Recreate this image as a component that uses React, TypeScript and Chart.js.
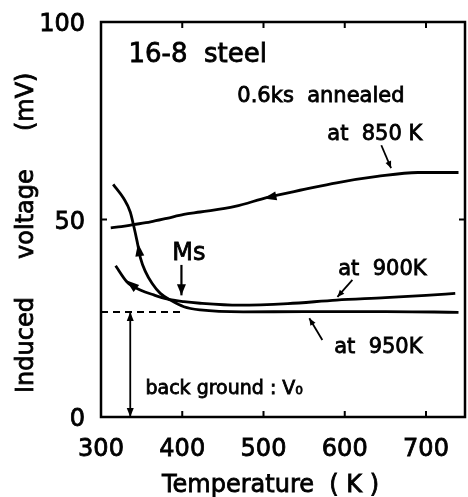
import React, { useEffect, useRef } from 'react';
import { Chart, registerables } from 'chart.js';

Chart.register(...registerables);

const FONT = "'DejaVu Sans', sans-serif";

// Axis ticks and titles
const tempTicks = [300, 400, 500, 600, 700];
const voltTicks = [0, 50, 100];
const tempMin = 300;
const tempMax = 748;
const xTitle = 'Temperature  ( K )';
const yTitle = 'Induced     voltage     (mV)';

// Induced voltage while cooling, after 0.6 ks anneal at each temperature (K, mV)
const temp850 = [312, 325, 340, 361, 381, 402, 422, 465, 505, 550, 590, 640, 690, 740];
const volt850 = [47.9, 48.2, 48.7, 49.4, 50.3, 51.3, 51.9, 53.3, 55.6, 57.6, 59.3, 60.9, 61.9, 61.9];

const temp900 = [318, 332, 349, 365, 381, 402, 422, 470, 530, 590, 650, 700, 736];
const volt900 = [38.3, 34.2, 32.1, 30.9, 29.9, 29.2, 28.8, 28.3, 28.7, 29.6, 30.2, 30.8, 31.3];

const temp950 = [315, 328, 336, 340, 344.5, 348.6, 354.7, 363, 373, 385.5, 402, 422, 475, 550, 650, 740];
const volt950 = [58.9, 55.3, 51.9, 48.6, 44.4, 40.2, 36.8, 33.8, 31.3, 29.6, 27.9, 27.1, 26.6, 26.7, 26.7, 26.5];

// Background level V0 and martensite start
const backgroundVolt = 26.6;
const backgroundArrowTemp = 336;
const msTemp = 399;

const toPoints = (t: number[], v: number[]) => t.map((x, i) => ({ x, y: v[i] }));

type P = [number, number];

function arrowHead(ctx: CanvasRenderingContext2D, from: P, to: P, len: number, half: number) {
  const ang = Math.atan2(to[1] - from[1], to[0] - from[0]);
  const bx = to[0] - Math.cos(ang) * len;
  const by = to[1] - Math.sin(ang) * len;
  const nx = -Math.sin(ang) * half;
  const ny = Math.cos(ang) * half;
  ctx.beginPath();
  ctx.moveTo(to[0], to[1]);
  ctx.lineTo(bx + nx, by + ny);
  ctx.lineTo(bx - nx, by - ny);
  ctx.closePath();
  ctx.fill();
}

const decorations = {
  id: 'decorations',
  afterDatasetsDraw(chart: any) {
    const { ctx, chartArea: a, scales } = chart;
    const xs = scales.x;
    const ys = scales.y;
    const px = (t: number, v: number): P => [xs.getPixelForValue(t), ys.getPixelForValue(v)];
    ctx.save();
    ctx.strokeStyle = '#000';
    ctx.fillStyle = '#000';
    ctx.lineCap = 'butt';

    // frame
    ctx.lineWidth = 2.5;
    ctx.strokeRect(a.left, a.top, a.right - a.left, a.bottom - a.top);

    // inward tick marks on all four sides
    ctx.lineWidth = 2;
    const tl = 6;
    for (const t of tempTicks) {
      if (t <= tempMin || t >= tempMax) continue;
      const x = xs.getPixelForValue(t);
      ctx.beginPath();
      ctx.moveTo(x, a.bottom); ctx.lineTo(x, a.bottom - tl);
      ctx.moveTo(x, a.top); ctx.lineTo(x, a.top + tl);
      ctx.stroke();
    }
    for (const v of voltTicks) {
      if (v <= 0 || v >= 100) continue;
      const y = ys.getPixelForValue(v);
      ctx.beginPath();
      ctx.moveTo(a.left, y); ctx.lineTo(a.left + tl, y);
      ctx.moveTo(a.right, y); ctx.lineTo(a.right - tl, y);
      ctx.stroke();
    }

    // background level: dashed line up to Ms
    ctx.lineWidth = 2;
    ctx.setLineDash([7, 5]);
    const d0 = px(tempMin, backgroundVolt);
    const d1 = px(msTemp, backgroundVolt);
    ctx.beginPath();
    ctx.moveTo(d0[0], d0[1]); ctx.lineTo(d1[0], d1[1]);
    ctx.stroke();
    ctx.setLineDash([]);

    // double arrow for V0
    ctx.lineWidth = 1.8;
    const b0 = px(backgroundArrowTemp, 0);
    const b1 = px(backgroundArrowTemp, backgroundVolt);
    ctx.beginPath();
    ctx.moveTo(b0[0], b0[1]); ctx.lineTo(b1[0], b1[1]);
    ctx.stroke();
    arrowHead(ctx, b1, b0, 9, 3.5);
    arrowHead(ctx, b0, b1, 9, 3.5);

    // Ms arrow
    const m0 = px(msTemp, 38.5);
    const m1 = px(msTemp, 30.8);
    ctx.lineWidth = 2.2;
    ctx.beginPath();
    ctx.moveTo(m0[0], m0[1]); ctx.lineTo(m1[0], m1[1]);
    ctx.stroke();
    arrowHead(ctx, m0, m1, 11, 4.5);

    // direction arrows along the curves
    arrowHead(ctx, px(520, 56.2), px(500, 55.3), 13, 4.5);
    arrowHead(ctx, px(342, 32.8), px(331, 34.6), 13, 4.5);
    arrowHead(ctx, px(348, 40.4), px(345.5, 44.0), 13, 4.5);

    // pointers from labels to curves
    const pointers: [P, P][] = [
      [[645, 68.8], [657, 63.0]],
      [[609.4, 34.7], [591, 30.4]],
      [[572.4, 19.5], [556.4, 25.0]],
    ];
    ctx.lineWidth = 1.8;
    for (const [f, t] of pointers) {
      const p0 = px(f[0], f[1]);
      const p1 = px(t[0], t[1]);
      ctx.beginPath();
      ctx.moveTo(p0[0], p0[1]); ctx.lineTo(p1[0], p1[1]);
      ctx.stroke();
      arrowHead(ctx, p0, p1, 7, 3);
    }

    // labels
    ctx.textBaseline = 'alphabetic';
    ctx.textAlign = 'left';
    ctx.lineWidth = 0.8;
    const label = (text: string, t: number, v: number, size: number) => {
      ctx.font = `${size}px ${FONT}`;
      const [x, y] = px(t, v);
      ctx.fillText(text, x, y);
      ctx.strokeText(text, x, y);
    };
    label('16-8  steel', 333.8, 89.9, 26);
    label('0.6ks  annealed', 467.8, 79.7, 21);
    label('at  850 K', 578.5, 70.1, 21);
    label('at  900K', 592, 35.9, 21);
    label('at  950K', 587, 16.1, 21);
    label('back ground : V\u2080', 354.7, 5.8, 19);
    label('Ms', 387.6, 39.7, 24);

    // axis titles
    ctx.font = `24px ${FONT}`;
    const tx = a.left + 61;
    const ty = chart.height - 5;
    ctx.fillText(xTitle, tx, ty);
    ctx.strokeText(xTitle, tx, ty);
    ctx.translate(a.left - 68, a.bottom - 24);
    ctx.rotate(-Math.PI / 2);
    ctx.fillText(yTitle, 0, 0);
    ctx.strokeText(yTitle, 0, 0);

    ctx.restore();
  },
};

export default function App() {
  const canvasRef = useRef<HTMLCanvasElement | null>(null);

  useEffect(() => {
    const canvas = canvasRef.current;
    if (!canvas) return;
    const line = (t: number[], v: number[]) => ({
      data: toPoints(t, v),
      borderColor: '#000',
      borderWidth: 2.8,
      pointRadius: 0,
      fill: false,
      cubicInterpolationMode: 'monotone' as const,
    });
    const chart = new Chart(canvas, {
      type: 'line',
      data: {
        datasets: [line(temp850, volt850), line(temp900, volt900), line(temp950, volt950)],
      },
      options: {
        responsive: false,
        animation: false,
        events: [],
        layout: { padding: { top: 22, right: 3, left: 0, bottom: 0 } },
        plugins: { legend: { display: false }, tooltip: { enabled: false } },
        scales: {
          x: {
            type: 'linear',
            min: tempMin,
            max: tempMax,
            grid: { display: false, drawTicks: false },
            border: { display: false },
            afterBuildTicks: (s: any) => { s.ticks = tempTicks.map((value) => ({ value })); },
            afterFit: (s: any) => { s.height = 80; s.paddingLeft = 0; s.paddingRight = 0; },
            ticks: {
              padding: 18,
              color: '#000',
              font: { family: FONT, size: 24 },
              maxRotation: 0,
              textStrokeColor: '#000',
              textStrokeWidth: 0.8,
            },
          },
          y: {
            type: 'linear',
            min: 0,
            max: 100,
            grid: { display: false, drawTicks: false },
            border: { display: false },
            afterBuildTicks: (s: any) => { s.ticks = voltTicks.map((value) => ({ value })); },
            afterFit: (s: any) => { s.width = 101; s.paddingTop = 0; s.paddingBottom = 0; },
            ticks: {
              padding: 16,
              labelOffset: 3,
              color: '#000',
              font: { family: FONT, size: 24 },
              textStrokeColor: '#000',
              textStrokeWidth: 0.8,
            },
          },
        },
      },
      plugins: [decorations],
    });
    return () => chart.destroy();
  }, []);

  return (
    <div style={{ position: 'fixed', left: 0, top: 0, width: 468, height: 497, background: '#fff' }}>
      <canvas ref={canvasRef} width={468} height={497} />
    </div>
  );
}
